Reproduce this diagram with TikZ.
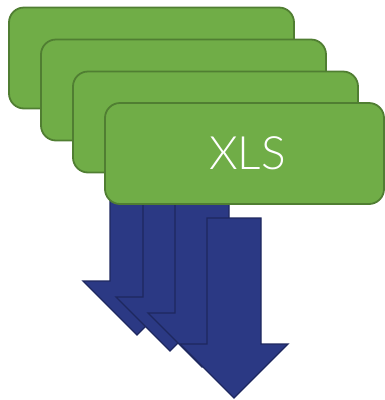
\documentclass[tikz,border=0pt]{standalone}
\usepackage{fontspec}
\setsansfont{Lato}[UprightFont=* Light]
\begin{document}
\begin{tikzpicture}[x=1pt,y=-1pt,
  card/.style={draw={rgb,255:red,80;green,126;blue,50}, fill={rgb,255:red,112;green,173;blue,71},
    line width=1.8pt, rounded corners=15pt, rectangle, minimum width=285pt, minimum height=101pt,
    inner sep=0pt},
  downarrow/.style={draw={rgb,255:red,30;green,40;blue,95}, fill={rgb,255:red,43;green,57;blue,132},
    line width=1.3pt, line join=miter}]
\useasboundingbox (0,0) rectangle (385,400);
% arrows: center, top, head base
\foreach \c/\t/\b [count=\i] in {137/190/281, 170/190/297, 202/190/313, 234/218/344}{
  \draw[downarrow] (\c-27,\t) -- (\c+27,\t) -- (\c+27,\b) -- (\c+54,\b) -- (\c,\b+54)
    -- (\c-54,\b) -- (\c-27,\b) -- cycle;
}
\node[card] (b1) at (151.5,58) {};
\node[card] (b2) at (183.5,90) {};
\node[card] (b3) at (215.5,122) {};
\node[card, minimum width=279pt, text=white, font=\sffamily\fontsize{46}{46}\selectfont] (b4) at (244.5,153.5) {\hspace{6pt}XLS};
\end{tikzpicture}
\end{document}
